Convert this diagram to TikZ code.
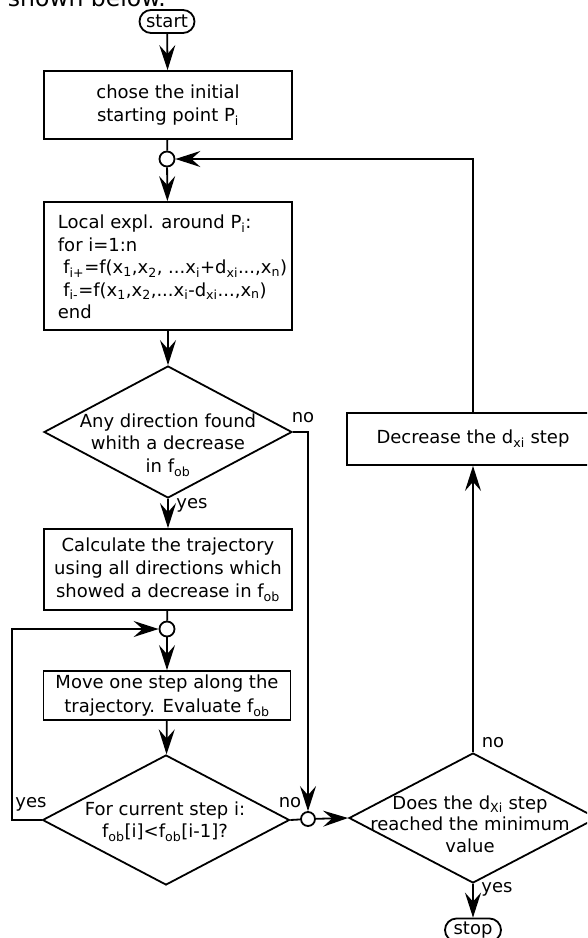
\documentclass[tikz,border=0pt]{standalone}
\usepackage{fontspec}
\setmainfont{DejaVu Sans}
\usetikzlibrary{arrows.meta,shapes.geometric,shapes.misc}
\newcommand\sbs[1]{\textsubscript{#1}}
\begin{document}
\begin{tikzpicture}[x=1pt,y=-1pt,line width=1.8pt,
  every node/.style={font=\fontsize{18}{23}\selectfont,inner sep=0pt},
  procbox/.style={draw,rectangle,align=center},
  term/.style={draw,rounded rectangle,minimum width=55pt,minimum height=23pt},
  dia/.style={draw,diamond,inner sep=0pt},
  junc/.style={draw,circle,minimum size=15pt,inner sep=0pt,fill=white},
  arr/.style={-{Stealth[length=25pt,width=16pt,inset=9pt]}},
  lbl/.style={font=\fontsize{18}{20}\selectfont}]
\useasboundingbox (0,0) rectangle (587,938);
\clip (0,0) rectangle (587,938);
\node[anchor=base west,font=\fontsize{23.5}{26}\selectfont] (hdr) at (7,6) {shown below.};
% main column
\node[term] (start) at (167,21.5) {start};
\node[procbox,minimum width=248pt,minimum height=68pt] (b1) at (168,105) {chose the initial\\starting point P\sbs{i}};
\node[junc] (j1) at (167,159) {};
\node[procbox,minimum width=248pt,minimum height=128pt] (b2) at (168,266) {};
\node[align=left,anchor=west,font=\fontsize{18}{22.5}\selectfont] (b2t) at (57,267) {Local expl. around P\sbs{i}:\\for i=1:n\\\hspace*{5.5pt}f\sbs{i+}=f(x\sbs{1},x\sbs{2}, ...x\sbs{i}+d\sbs{xi}...,x\sbs{n})\\\hspace*{5.5pt}f\sbs{i-}=f(x\sbs{1},x\sbs{2},...x\sbs{i}-d\sbs{xi}...,x\sbs{n})\\end};
\node[dia,minimum width=248pt,minimum height=132pt] (d1) at (168,432) {};
\node[align=center,font=\fontsize{18}{22.5}\selectfont] (d1t) at (168,445) {Any direction found\\whith a decrease\\in f\sbs{ob}};
\node[procbox,minimum width=248pt,minimum height=81pt] (b3) at (168,569.5) {Calculate the trajectory\\using all directions which\\showed a decrease in f\sbs{ob}};
\node[junc] (j2) at (167,629) {};
\node[procbox,minimum width=247pt,minimum height=49pt,font=\fontsize{18}{24}\selectfont] (b4) at (167,695.5) {Move one step along the\\trajectory. Evaluate f\sbs{ob}};
\node[dia,minimum width=247pt,minimum height=130pt] (d2) at (166,820) {};
\node[align=center,font=\fontsize{18}{22}\selectfont] (d2t) at (165,822) {For current step i:\\f\sbs{ob}[i]<f\sbs{ob}[i-1]?};
% right column
\node[junc,minimum size=14pt] (j3) at (308,819) {};
\node[dia,minimum width=248pt,minimum height=130pt] (d3) at (473,818) {};
\node[align=center,font=\fontsize{18}{21.5}\selectfont] (d3t) at (470,824) {Does the d\sbs{Xi} step\\reached the minimum\\value};
\node[procbox,minimum width=252pt,minimum height=52pt] (b5) at (473,439) {Decrease the d\sbs{xi} step};
\node[term,minimum width=56pt] (stop) at (473,930) {stop};
% labels
\node[lbl] (no1) at (303,418) {no};
\node[lbl] (yes1) at (192,505) {yes};
\node[lbl] (yes2) at (31,804) {yes};
\node[lbl] (no2) at (290,803) {no};
\node[lbl] (no3) at (493,743) {no};
\node[lbl] (yes3) at (497,889) {yes};
\coordinate (yl) at (12,820);
% connectors
\draw[arr] (start) -- (b1);
\draw (b1) -- (j1);
\draw[arr] (j1) -- (b2);
\draw[arr] (b2) -- (d1);
\draw[arr] (d1) -- (b3);
\draw (b3) -- (j2);
\draw[arr] (j2) -- (b4);
\draw[arr] (b4) -- (d2);
\draw[arr] (d2.west) -- (yl) |- (j2);
\draw[arr] (d1.east) -| (j3);
\draw (d2.east) -- (j3);
\draw[arr] (j3) -- (d3.west);
\draw[arr] (d3) -- (b5);
\draw[arr] (b5) |- (j1);
\draw[arr] (d3) -- (stop);
\end{tikzpicture}
\end{document}
